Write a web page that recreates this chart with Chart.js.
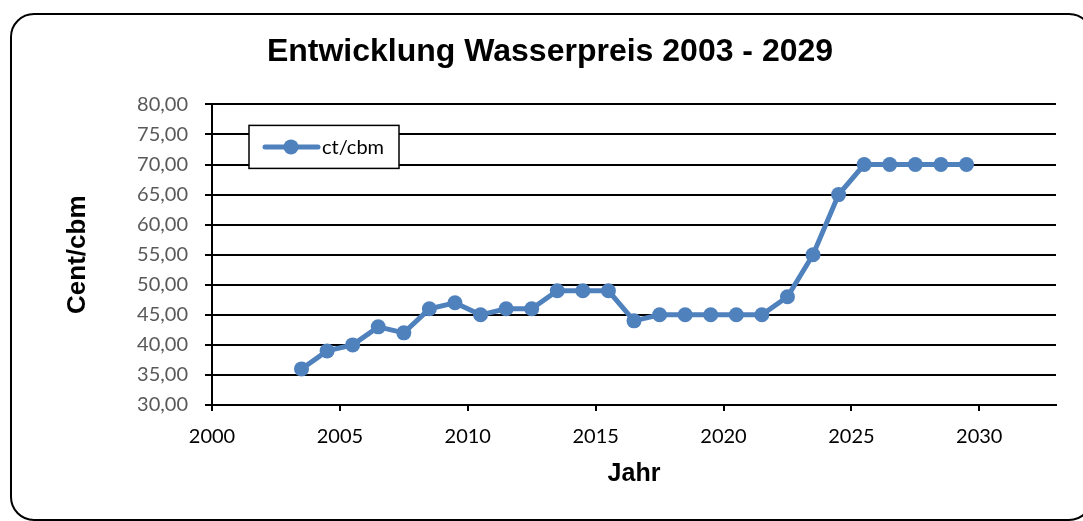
<!DOCTYPE html>
<html>
<head>
<meta charset="utf-8">
<script src="https://cdn.jsdelivr.net/npm/chart.js@4"></script>
<style>
  html, body { margin: 0; padding: 0; background: #fff; overflow: hidden; }
  #wrap { position: relative; width: 1083px; height: 521px; }
  #frame {
    position: absolute; left: 10px; top: 13px; width: 1083px; height: 508px;
    box-sizing: border-box; border: 2px solid #000; border-radius: 24px;
    pointer-events: none;
  }
  canvas { position: absolute; left: 0; top: 0; }
</style>
</head>
<body>
<div id="wrap">
  <canvas id="wasser" width="1083" height="521"></canvas>
  <div id="frame"></div>
</div>
<script>
// years are plotted mid-year, as in the original sheet
const jahre = [2003.5, 2004.5, 2005.5, 2006.5, 2007.5, 2008.5, 2009.5, 2010.5, 2011.5,
  2012.5, 2013.5, 2014.5, 2015.5, 2016.5, 2017.5, 2018.5, 2019.5, 2020.5, 2021.5,
  2022.5, 2023.5, 2024.5, 2025.5, 2026.5, 2027.5, 2028.5, 2029.5];
const preise = [36, 39, 40, 43, 42, 46, 47, 45, 46, 46, 49, 49, 49, 44, 45, 45, 45, 45, 45,
  48, 55, 65, 70, 70, 70, 70, 70];
const serienName = 'ct/cbm';
const titel = 'Entwicklung Wasserpreis 2003 - 2029';
const xTitel = 'Jahr';
const yTitel = 'Cent/cbm';

const blau = '#4F81BD';
const points = jahre.map((j, i) => ({x: j, y: preise[i]}));

Chart.defaults.font.family = 'Lato';
Chart.defaults.color = '#000';

// legend box drawn inside the plot, Excel style
const boxLegend = {
  id: 'boxLegend',
  afterDraw(chart) {
    const ctx = chart.ctx;
    const a = chart.chartArea;
    const ds = chart.data.datasets[0];
    const x = a.left + 37, y = a.top + 21, w = 150, h = 43;
    ctx.save();
    ctx.fillStyle = '#fff';
    ctx.fillRect(x, y, w, h);
    ctx.strokeStyle = '#000';
    ctx.lineWidth = 1.5;
    ctx.strokeRect(x, y, w, h);
    const cy = y + h / 2;
    ctx.strokeStyle = ds.borderColor;
    ctx.lineWidth = 5;
    ctx.lineCap = 'round';
    ctx.beginPath();
    ctx.moveTo(x + 16, cy);
    ctx.lineTo(x + 69, cy);
    ctx.stroke();
    ctx.fillStyle = ds.borderColor;
    ctx.beginPath();
    ctx.arc(x + 42, cy, 7.5, 0, Math.PI * 2);
    ctx.fill();
    ctx.fillStyle = '#000';
    ctx.font = '20px Lato';
    ctx.textBaseline = 'middle';
    ctx.fillText(ds.label, x + 73, cy + 1);
    ctx.restore();
  }
};

const ctx = document.getElementById('wasser').getContext('2d');
const chart = new Chart(ctx, {
  type: 'line',
  data: {
    datasets: [{
      label: serienName,
      data: points,
      borderColor: blau,
      backgroundColor: blau,
      borderWidth: 5,
      tension: 0,
      pointRadius: 7.5,
      pointHoverRadius: 7.5,
      pointBorderWidth: 0,
      pointBackgroundColor: blau
    }]
  },
  options: {
    responsive: false,
    animation: false,
    // left padding also shifts the title to the centre used by the original
    layout: { padding: { left: 44, right: 27, top: 0, bottom: 0 } },
    plugins: {
      legend: { display: false },
      tooltip: { enabled: false },
      title: {
        display: true,
        text: titel,
        color: '#000',
        font: { family: 'Liberation Sans', size: 32, weight: 'bold' },
        padding: { top: 33, bottom: 33 }
      }
    },
    scales: {
      x: {
        type: 'linear',
        min: 2000,
        max: 2033,
        afterFit: function (s) { s.height = 116; },
        ticks: {
          stepSize: 5,
          includeBounds: false,
          padding: 14,
          color: '#000',
          font: { size: 20 },
          callback: v => String(v)
        },
        grid: {
          drawOnChartArea: false,
          drawTicks: true,
          tickLength: 6,
          color: '#000',
          lineWidth: 2
        },
        border: { display: true, color: '#000', width: 2 },
        title: {
          display: true,
          text: xTitel,
          color: '#000',
          font: { family: 'Liberation Sans', size: 25, weight: 'bold' },
          padding: { top: 0, bottom: 32 }
        }
      },
      y: {
        min: 30,
        max: 80,
        afterFit: function (s) { s.width = 168; },
        ticks: {
          stepSize: 5,
          padding: 17,
          color: '#595959',
          font: { size: 20 },
          callback: v => v.toFixed(2).replace('.', ',')
        },
        grid: {
          color: '#000',
          lineWidth: 2,
          drawTicks: true,
          tickLength: 7
        },
        border: { display: true, color: '#000', width: 2 },
        title: {
          display: true,
          text: yTitel,
          color: '#000',
          font: { family: 'Liberation Sans', size: 26, weight: 'bold' },
          padding: { top: 18, bottom: 0 }
        }
      }
    }
  },
  plugins: [boxLegend]
});
</script>
</body>
</html>
